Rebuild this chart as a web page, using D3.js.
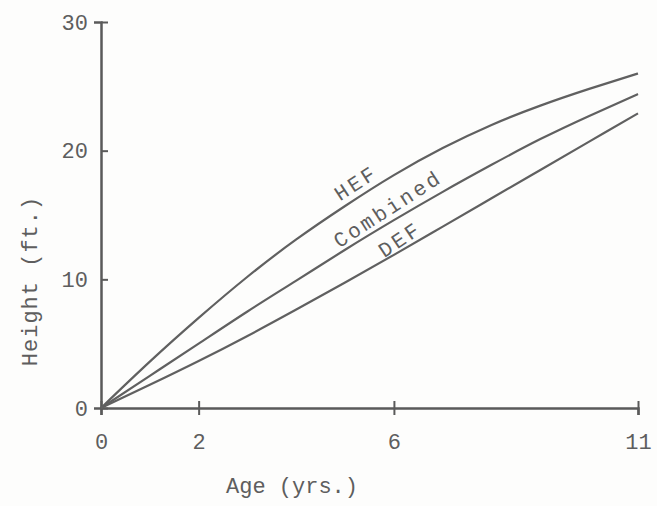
<!DOCTYPE html>
<html>
<head>
<meta charset="utf-8">
<script src="https://cdn.jsdelivr.net/npm/d3@7"></script>
<style>
  html, body { margin: 0; padding: 0; background: #fdfdfc; }
  text { font-family: "Courier New", "Liberation Mono", monospace; fill: #5e5e5e; }
</style>
</head>
<body>
<svg id="chart" width="657" height="506"></svg>
<script>
// Data
const ages = [0, 1, 2, 3, 4, 5, 6, 7, 8, 9, 10, 11];
const hefHeights = [0, 3.6, 7.0, 10.2, 13.1, 15.7, 18.1, 20.2, 22.0, 23.5, 24.8, 26.0];
const combinedHeights = [0, 2.5, 5.0, 7.5, 9.9, 12.3, 14.6, 16.8, 18.9, 20.9, 22.7, 24.4];
const defHeights = [0, 1.8, 3.65, 5.6, 7.65, 9.75, 11.9, 14.1, 16.3, 18.5, 20.7, 22.9];
const xTicks = [0, 2, 6, 11];
const yTicks = [0, 10, 20, 30];

const series = [
  { name: "HEF", values: hefHeights, at: 5.3, dy: -8, angle: -33 },
  { name: "Combined", values: combinedHeights, at: 5.95, dy: -7, angle: -33 },
  { name: "DEF", values: defHeights, at: 6.2, dy: -4, angle: -34 }
];

const svg = d3.select("#chart");

// Scales
const x = d3.scaleLinear().domain([0, 11]).range([101, 638]);
const y = d3.scaleLinear().domain([0, 30]).range([408, 22]);

const ink = "#5a5a5a";

// X axis with cross ticks
const xAxis = svg.append("g")
  .attr("transform", `translate(0, ${ y(0) })`)
  .call(d3.axisBottom(x).tickValues(xTicks).tickSize(7).tickPadding(18).tickFormat(d3.format("d")));
xAxis.select(".domain").attr("stroke", ink).attr("stroke-width", 2.5);
xAxis.selectAll(".tick line").attr("y1", -7).attr("stroke", ink).attr("stroke-width", 2);
xAxis.selectAll(".tick text").attr("font-size", 22).attr("dy", "0.71em");

// Y axis with cross ticks
const yAxis = svg.append("g")
  .attr("transform", `translate(${ x(0) }, 0)`)
  .call(d3.axisLeft(y).tickValues(yTicks).tickSize(7).tickPadding(6).tickFormat(d3.format("d")));
yAxis.select(".domain").attr("stroke", ink).attr("stroke-width", 2.5);
yAxis.selectAll(".tick line").attr("x2", 7).attr("stroke", ink).attr("stroke-width", 2);
yAxis.selectAll(".tick text").attr("font-size", 22);

// Curves
const line = d3.line()
  .x((d, i) => x(ages[i]))
  .y(d => y(d))
  .curve(d3.curveNatural);

svg.selectAll("path.curve")
  .data(series)
  .enter()
  .append("path")
  .attr("class", "curve")
  .attr("d", d => line(d.values))
  .attr("fill", "none")
  .attr("stroke", "#606060")
  .attr("stroke-width", 2.2);

// Curve labels
const interp = (vals, a) => {
  const i = Math.floor(a);
  return vals[i] + (vals[i + 1] - vals[i]) * (a - i);
};
svg.selectAll("text.curve-label")
  .data(series)
  .enter()
  .append("text")
  .attr("class", "curve-label")
  .attr("transform", d => `translate(${ x(d.at) }, ${ y(interp(d.values, d.at)) + d.dy }) rotate(${ d.angle })`)
  .attr("text-anchor", "middle")
  .attr("font-size", 21)
  .attr("letter-spacing", 3)
  .text(d => d.name);

// Axis titles
svg.append("text")
  .attr("x", 292)
  .attr("y", 493)
  .attr("text-anchor", "middle")
  .attr("font-size", 22)
  .text("Age (yrs.)");

svg.append("text")
  .attr("transform", "rotate(-90)")
  .attr("x", -281)
  .attr("y", 37)
  .attr("text-anchor", "middle")
  .attr("font-size", 22)
  .attr("letter-spacing", 1)
  .text("Height (ft.)");
</script>
</body>
</html>
